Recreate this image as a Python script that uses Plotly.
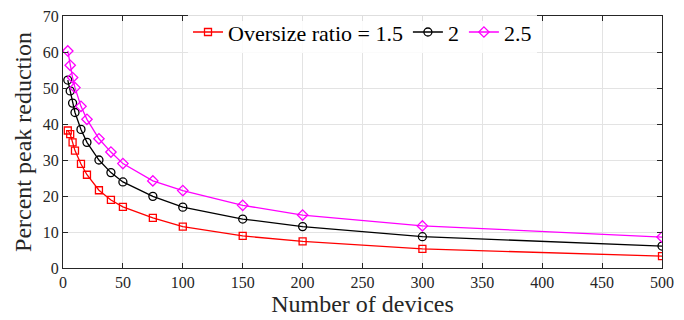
import plotly.graph_objects as go

devices = [4, 6, 8, 10, 15, 20, 30, 40, 50, 75, 100, 150, 200, 300, 500]
ratio_1_5 = [38.2, 37.2, 34.9, 32.6, 28.9, 25.9, 21.6, 18.9, 17.0, 13.9, 11.5, 8.9, 7.4, 5.3, 3.3]
ratio_2 = [52.2, 49.2, 45.8, 43.2, 38.5, 34.9, 30.0, 26.5, 23.9, 19.9, 16.9, 13.6, 11.5, 8.7, 6.1]
ratio_2_5 = [60.3, 56.3, 52.9, 50.1, 44.9, 41.3, 35.9, 32.2, 29.0, 24.2, 21.5, 17.4, 14.7, 11.7, 8.6]
series_names = ["Oversize ratio = 1.5", "2", "2.5"]

FONT = "Liberation Serif"

fig = go.Figure()
styles = [("#ff0000", "square-open", 7), ("#000000", "circle-open", 8), ("#ff00ff", "diamond-open", 8)]
for name, vals, (col, sym, sz) in zip(series_names, [ratio_1_5, ratio_2, ratio_2_5], styles):
    fig.add_trace(go.Scatter(
        x=devices, y=vals, name=name, mode="lines+markers",
        line=dict(color=col, width=1.3),
        marker=dict(symbol=sym, size=sz, color=col, line=dict(width=1.3, color=col)),
    ))

axis_common = dict(
    showline=True, linecolor="#262626", linewidth=1, mirror="ticks",
    ticks="inside", ticklen=5, tickcolor="#262626",
    showgrid=True, gridcolor="#e3e3e3", gridwidth=1, zeroline=False,
    tickfont=dict(family=FONT, size=16, color="#262626"),
    automargin=False,
)
fig.update_xaxes(range=[0, 500], dtick=50, **axis_common,
                 title=dict(text="Number of devices", font=dict(family=FONT, size=24, color="#262626"), standoff=1))
fig.update_yaxes(range=[0, 70], dtick=10, **axis_common,
                 title=dict(text="Percent peak reduction", font=dict(family=FONT, size=24, color="#262626"), standoff=4))

fig.update_layout(
    width=684, height=320,
    margin=dict(l=63, r=22, t=15, b=52),
    plot_bgcolor="white", paper_bgcolor="white",
    legend=dict(orientation="h", x=0.5, xanchor="center", y=1.015, yanchor="top",
                bgcolor="rgba(255,255,255,0.85)", font=dict(family=FONT, size=22, color="#000"),
                itemwidth=30, tracegroupgap=0),
    showlegend=True,
)
fig.write_html("out.html", config={"displayModeBar": False},
               post_script="document.body.style.margin='0';document.body.style.padding='0';")
